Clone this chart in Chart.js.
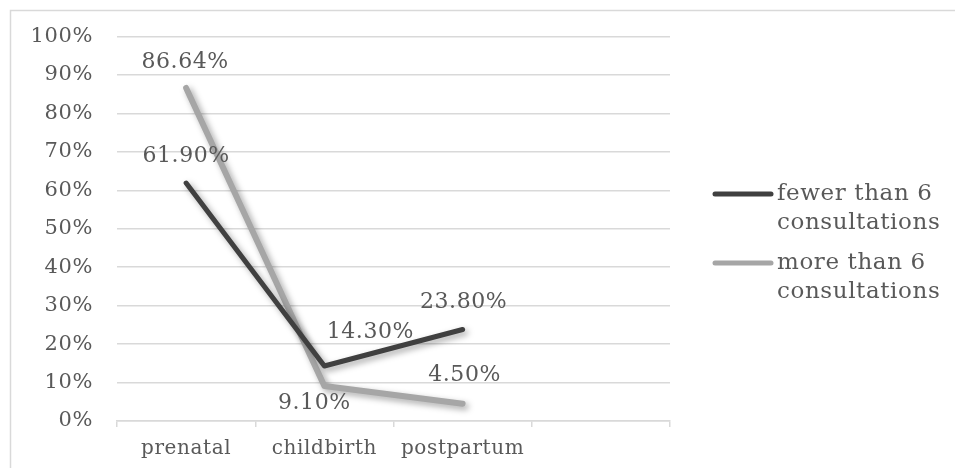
<!DOCTYPE html>
<html>
<head>
<meta charset="utf-8">
<script src="https://cdn.jsdelivr.net/npm/chart.js@4/dist/chart.umd.min.js"></script>
<style>
  html, body { margin: 0; padding: 0; background: #ffffff; }
  #wrap { position: relative; width: 955px; height: 468px; }
</style>
</head>
<body>
<div id="wrap"><canvas id="chart" width="955" height="468"></canvas></div>
<script>
// Stages of care, with an empty trailing slot on the category axis
const categories = ['prenatal', 'childbirth', 'postpartum', ''];
const seriesNames = [['fewer than 6', 'consultations'], ['more than 6', 'consultations']];
const fewerThan6 = [61.90, 14.30, 23.80];
const moreThan6 = [86.64, 9.10, 4.50];
const yTickValues = [0, 10, 20, 30, 40, 50, 60, 70, 80, 90, 100];

const FONT = '"DejaVu Serif", serif';
const TEXT = '#595959';
const SPACING = '0.6px';

// Where each value label sits relative to its point (dx, dy in px)
const labelOffsets = [
  [[0, -27], [46, -34], [1, -27]],
  [[-1, -26], [-10, 17], [2, -28]]
];

// Slightly airy lettering for every text drawn on the canvas
const letterSpacing = {
  id: 'letterSpacing',
  beforeUpdate(chart) { chart.ctx.letterSpacing = SPACING; },
  beforeDraw(chart) { chart.ctx.letterSpacing = SPACING; }
};

const shadowPlugin = {
  id: 'lineShadow',
  beforeDatasetDraw(chart) {
    const ctx = chart.ctx;
    ctx.save();
    ctx.shadowColor = 'rgba(0,0,0,0.35)';
    ctx.shadowBlur = 6;
    ctx.shadowOffsetX = 3;
    ctx.shadowOffsetY = 3;
  },
  afterDatasetDraw(chart) {
    chart.ctx.restore();
  }
};

const valueLabels = {
  id: 'valueLabels',
  afterDatasetsDraw(chart) {
    const ctx = chart.ctx;
    ctx.save();
    ctx.font = '22px ' + FONT;
    ctx.fillStyle = TEXT;
    ctx.textAlign = 'center';
    ctx.textBaseline = 'middle';
    chart.data.datasets.forEach((ds, i) => {
      const meta = chart.getDatasetMeta(i);
      meta.data.forEach((pt, j) => {
        const v = ds.data[j];
        if (v == null) return;
        const [dx, dy] = labelOffsets[i][j];
        ctx.fillText(v.toFixed(2) + '%', pt.x + dx, pt.y + dy);
      });
    });
    ctx.restore();
  }
};

const frameAndLegend = {
  id: 'frameAndLegend',
  beforeDraw(chart) {
    const ctx = chart.ctx;
    ctx.save();
    ctx.strokeStyle = '#d9d9d9';
    ctx.lineWidth = 1.5;
    ctx.beginPath();
    ctx.moveTo(10.5, 480);
    ctx.lineTo(10.5, 10.5);
    ctx.lineTo(960, 10.5);
    ctx.stroke();
    ctx.restore();
  },
  afterDraw(chart) {
    const ctx = chart.ctx;
    ctx.save();
    ctx.font = '23px ' + FONT;
    ctx.textBaseline = 'middle';
    ctx.textAlign = 'left';
    const rows = [194, 263];
    chart.data.datasets.forEach((ds, i) => {
      const y = rows[i];
      ctx.strokeStyle = ds.borderColor;
      ctx.lineWidth = 5;
      ctx.lineCap = 'round';
      ctx.beginPath();
      ctx.moveTo(715, y);
      ctx.lineTo(771, y);
      ctx.stroke();
      ctx.fillStyle = TEXT;
      seriesNames[i].forEach((line, k) => ctx.fillText(line, 777, y + k * 29));
    });
    ctx.restore();
  }
};

new Chart(document.getElementById('chart'), {
  type: 'line',
  data: {
    labels: categories,
    datasets: [
      { label: seriesNames[0].join(' '), data: fewerThan6, borderColor: '#404040', backgroundColor: '#404040', borderWidth: 5, pointRadius: 0, tension: 0, borderCapStyle: 'round', borderJoinStyle: 'round' },
      { label: seriesNames[1].join(' '), data: moreThan6, borderColor: '#a6a6a6', backgroundColor: '#a6a6a6', borderWidth: 6, pointRadius: 0, tension: 0, borderCapStyle: 'round', borderJoinStyle: 'round' }
    ]
  },
  options: {
    responsive: false,
    animation: false,
    events: [],
    layout: { padding: { left: 10, right: 285, top: 35, bottom: 10 } },
    plugins: { legend: { display: false }, tooltip: { enabled: false } },
    scales: {
      x: {
        offset: true,
        grid: { offset: true, drawOnChartArea: false, drawTicks: true, tickLength: 6, color: '#d9d9d9', lineWidth: 1.5 },
        border: { display: true, color: '#d9d9d9', width: 1.5 },
        ticks: { color: TEXT, font: { family: FONT, size: 20 }, padding: 10, maxRotation: 0 },
        afterFit(scale) { scale.height = 37; }
      },
      y: {
        min: 0, max: 100,
        afterBuildTicks(scale) { scale.ticks = yTickValues.map(v => ({ value: v })); },
        grid: { color: '#d9d9d9', lineWidth: 1.5, drawTicks: false },
        border: { display: false },
        ticks: { color: TEXT, font: { family: FONT, size: 21 }, padding: 24, callback: v => v + '%' },
        afterFit(scale) { scale.width = 107; }
      }
    }
  },
  plugins: [letterSpacing, frameAndLegend, shadowPlugin, valueLabels]
});
</script>
</body>
</html>
